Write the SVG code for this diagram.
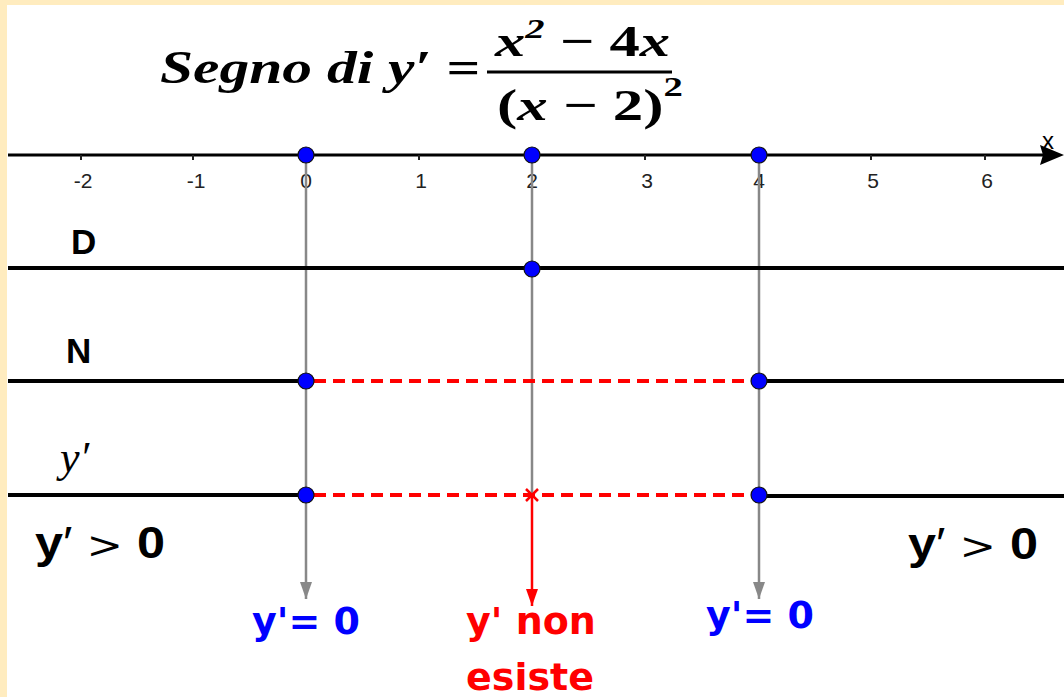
<svg xmlns="http://www.w3.org/2000/svg" width="1064" height="697" viewBox="0 0 1064 697">
<style>
.tick{font-family:"Liberation Sans",Arial,sans-serif;font-size:21px;fill:#222;text-anchor:middle}
.lab{font-family:"Liberation Sans",Arial,sans-serif;font-weight:bold;fill:#000}
.math{font-family:"Liberation Serif","DejaVu Serif",serif;font-style:italic;font-weight:bold;fill:#000}
.mathr{font-family:"Liberation Serif","DejaVu Serif",serif;font-weight:bold;fill:#000}
.blue{font-family:"DejaVu Sans","Liberation Sans",sans-serif;font-weight:bold;font-size:38px;fill:#0000ff}
.red{font-family:"DejaVu Sans","Liberation Sans",sans-serif;font-weight:bold;font-size:38px;fill:#ff0000}
.line{stroke:#000;stroke-width:4}
.dash{stroke:#ff0000;stroke-width:4;stroke-dasharray:12 7}
.vert{stroke:#888;stroke-width:2.5}
.dot{fill:#0000ff;stroke:#111;stroke-width:1.2}
.gt{font-family:"Liberation Sans",Arial,sans-serif;font-size:44px;fill:#000}
</style>
<defs>
<marker id="ag" markerWidth="17" markerHeight="12" refX="17" refY="6" orient="auto" markerUnits="userSpaceOnUse" viewBox="0 0 17 12"><path d="M0,0 L17,6 L0,12 Z" fill="#888"/></marker>
<marker id="ar" markerWidth="17" markerHeight="12" refX="17" refY="6" orient="auto" markerUnits="userSpaceOnUse" viewBox="0 0 17 12"><path d="M0,0 L17,6 L0,12 Z" fill="#ff0000"/></marker>
</defs>
<rect x="0" y="0" width="1064" height="697" fill="#ffecbf"/>
<rect x="7" y="5" width="1057" height="692" fill="#ffffff"/>

<g id="title">
<text class="math" x="160" y="83" font-size="46" textLength="320" lengthAdjust="spacingAndGlyphs">Segno di y′ =</text>
<text class="math" x="495" y="56" font-size="44" textLength="175" lengthAdjust="spacingAndGlyphs">x<tspan font-size="28" dy="-18">2</tspan><tspan dy="18" class="mathr" font-style="normal"> − 4</tspan>x</text>
<line x1="487" y1="72" x2="672" y2="72" stroke="#000" stroke-width="3"/>
<text class="mathr" x="497" y="120" font-size="44" textLength="186" lengthAdjust="spacingAndGlyphs">(<tspan font-style="italic">x</tspan> − 2)<tspan font-size="28" dy="-24">2</tspan></text>
</g>

<g id="axis">
<line x1="8" y1="155" x2="1045" y2="155" stroke="#000" stroke-width="3"/>
<path d="M1064,155 L1040,145 L1043,155 L1040,165 Z" fill="#000"/>
<text x="1042" y="149" font-family="Liberation Sans,sans-serif" font-size="24" fill="#000">x</text>
<g stroke="#222" stroke-width="2">
<line x1="81" y1="155" x2="81" y2="160"/><line x1="193" y1="155" x2="193" y2="160"/><line x1="419" y1="155" x2="419" y2="160"/><line x1="645" y1="155" x2="645" y2="160"/><line x1="871" y1="155" x2="871" y2="160"/><line x1="985" y1="155" x2="985" y2="160"/>
</g>
<text class="tick" x="83" y="188">-2</text>
<text class="tick" x="196" y="188">-1</text>
<text class="tick" x="306" y="188">0</text>
<text class="tick" x="421" y="188">1</text>
<text class="tick" x="532" y="188">2</text>
<text class="tick" x="647" y="188">3</text>
<text class="tick" x="759" y="188">4</text>
<text class="tick" x="873" y="188">5</text>
<text class="tick" x="987" y="188">6</text>
</g>

<g id="connectors">
<line class="vert" x1="306" y1="155" x2="306" y2="599" marker-end="url(#ag)"/>
<line class="vert" x1="759" y1="155" x2="759" y2="599" marker-end="url(#ag)"/>
<line class="vert" x1="532" y1="155" x2="532" y2="495"/>
<line x1="532" y1="495" x2="532" y2="606" stroke="#ff0000" stroke-width="2.5" marker-end="url(#ar)"/>
</g>

<g id="row-D">
<line class="line" x1="8" y1="268" x2="1064" y2="268"/>
<text class="lab" x="71" y="254" font-size="35">D</text>
<circle class="dot" cx="532" cy="269" r="8"/>
</g>

<g id="row-N">
<line class="line" x1="8" y1="381" x2="306" y2="381"/>
<line class="dash" x1="314" y1="381" x2="752" y2="381"/>
<line class="line" x1="759" y1="381" x2="1064" y2="381"/>
<text class="lab" x="66" y="363" font-size="35">N</text>
</g>

<g id="row-y">
<line class="line" x1="8" y1="495" x2="306" y2="495"/>
<line class="dash" x1="314" y1="495" x2="752" y2="495"/>
<line class="line" x1="759" y1="496" x2="1064" y2="496"/>
<text x="60" y="472" font-family="Liberation Serif,DejaVu Serif,serif" font-style="italic" font-size="44" fill="#000">y′</text>
</g>

<g id="points">
<circle class="dot" cx="306" cy="155" r="8"/>
<circle class="dot" cx="532" cy="155" r="8"/>
<circle class="dot" cx="759" cy="155" r="8"/>
<circle class="dot" cx="306" cy="381" r="8"/>
<circle class="dot" cx="759" cy="381" r="8"/>
<circle class="dot" cx="306" cy="495" r="8"/>
<circle class="dot" cx="759" cy="495" r="8"/>
<path d="M526,489 L538,501 M538,489 L526,501" stroke="#ff0000" stroke-width="2.5"/>
</g>

<g id="sign-left">
<text class="gt" x="35" y="558" textLength="130" lengthAdjust="spacingAndGlyphs"><tspan font-weight="bold">y</tspan>′ <tspan font-family="DejaVu Serif,serif" font-size="38">&gt;</tspan> <tspan font-weight="bold">0</tspan></text>
</g>
<g id="sign-right">
<text class="gt" x="908" y="559" textLength="130" lengthAdjust="spacingAndGlyphs"><tspan font-weight="bold">y</tspan>′ <tspan font-family="DejaVu Serif,serif" font-size="38">&gt;</tspan> <tspan font-weight="bold">0</tspan></text>
</g>

<g id="label-0"><text class="blue" x="252" y="634">y'= 0</text></g>
<g id="label-2"><text class="red" x="466" y="634">y' non</text><text class="red" x="466" y="690">esiste</text></g>
<g id="label-4"><text class="blue" x="706" y="628">y'= 0</text></g>
</svg>
